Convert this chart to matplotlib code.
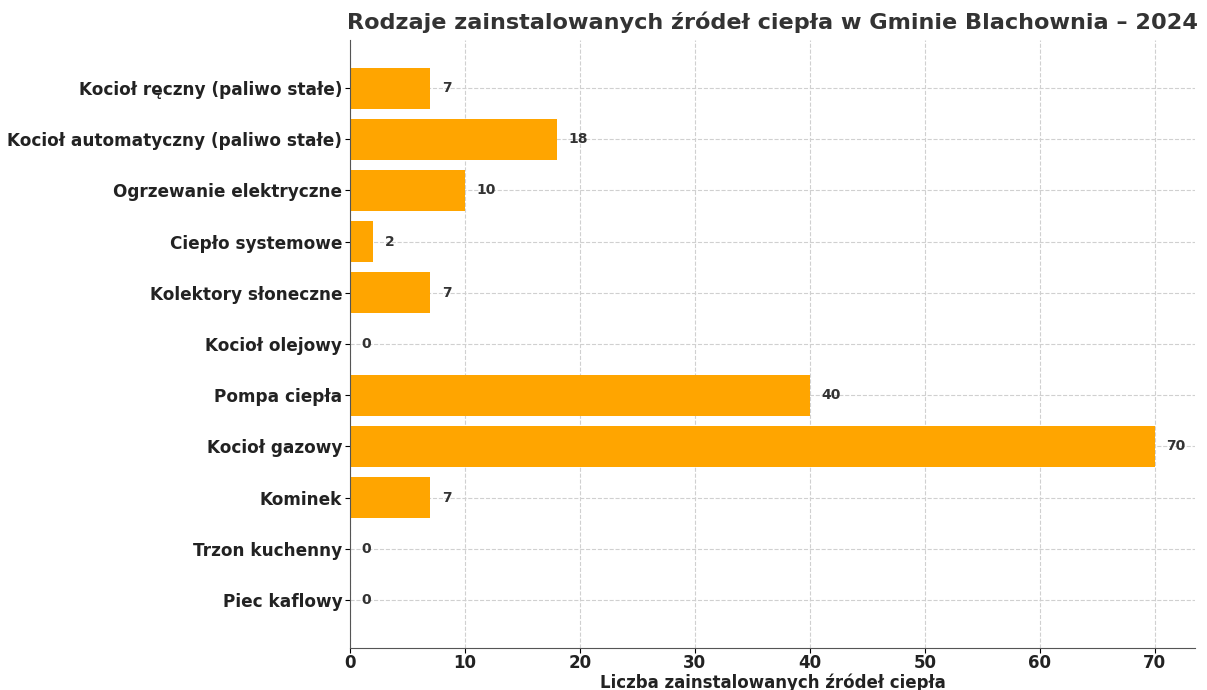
import numpy as np
import matplotlib
matplotlib.use("Agg")
import matplotlib.pyplot as plt

# data (top to bottom as in the chart)
categories = ["Kocioł ręczny (paliwo stałe)", "Kocioł automatyczny (paliwo stałe)",
              "Ogrzewanie elektryczne", "Ciepło systemowe", "Kolektory słoneczne",
              "Kocioł olejowy", "Pompa ciepła", "Kocioł gazowy", "Kominek",
              "Trzon kuchenny", "Piec kaflowy"]
counts = [7, 18, 10, 2, 7, 0, 40, 70, 7, 0, 0]

plt.rcParams['font.family'] = ['DejaVu Sans']

fig = plt.figure(figsize=(12.07, 6.9), dpi=100)
ax = fig.add_axes([350/1207, 1-648/690, 845/1207, 608/690])

ax.barh(categories, counts, color="#FFA500", height=0.8, zorder=2)
ax.invert_yaxis()

for i, v in enumerate(counts):
    ax.text(v + 1, i, str(v), va='center', ha='left', fontsize=10,
            fontweight='bold', color='#333333')

ax.grid(True, linestyle='--', color='#d0d0d0', linewidth=0.8, zorder=0)
ax.set_axisbelow(True)
for s in ['top', 'right']:
    ax.spines[s].set_visible(False)
for s in ['left', 'bottom']:
    ax.spines[s].set_color('#555555')

ax.tick_params(axis='y', pad=2)
ax.tick_params(axis='x', pad=1)

ax.set_title("Rodzaje zainstalowanych źródeł ciepła w Gminie Blachownia – 2024",
             fontsize=16.1, fontweight='bold', color='#333333', pad=8)
ax.set_xlabel("Liczba zainstalowanych źródeł ciepła", fontsize=12,
              fontweight='bold', color='#222222', labelpad=1)
for lab in ax.get_yticklabels():
    lab.set_fontweight('bold')
    lab.set_fontsize(12.2)
    lab.set_color('#222222')
for lab in ax.get_xticklabels():
    lab.set_fontweight('bold')
    lab.set_fontsize(12)
    lab.set_color('#222222')

fig.savefig("out.png", dpi=100)
